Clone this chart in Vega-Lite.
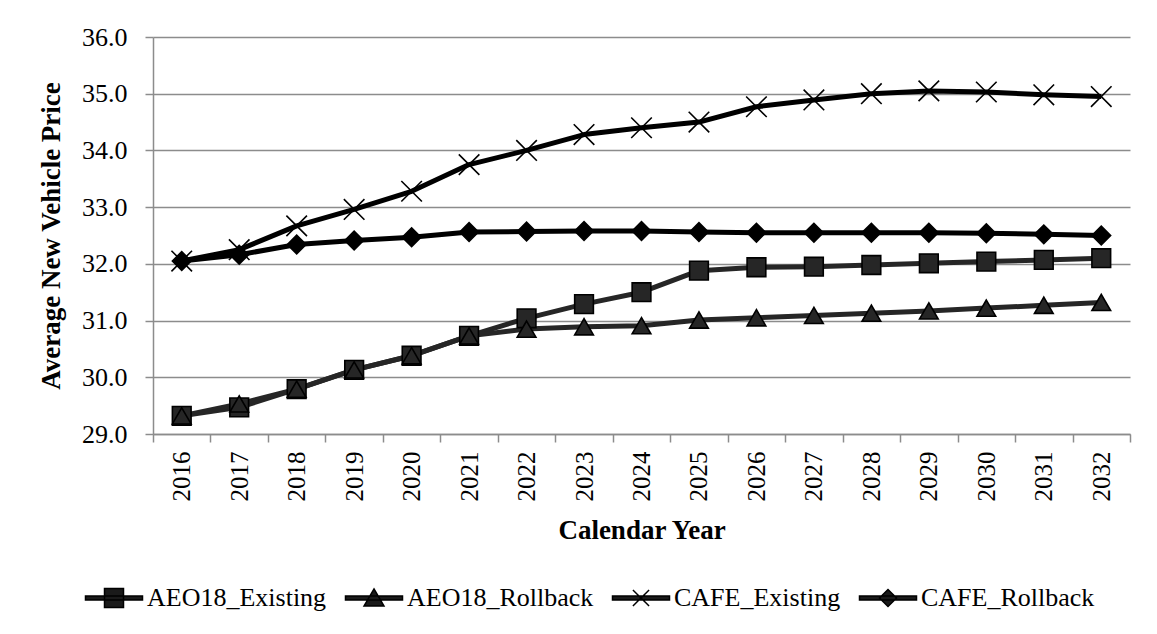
{
  "$schema": "https://vega.github.io/schema/vega-lite/v6.json",
  "width": 977,
  "height": 397,
  "autosize": "none",
  "padding": {"left": 153, "top": 37, "right": 27, "bottom": 200},
  "background": "white",
  "config": {
    "font": "Liberation Serif",
    "view": {"stroke": null}
  },
  "data": {
    "values": [
      {"year": 2016, "series": "AEO18_Existing", "price": 29.32},
      {"year": 2017, "series": "AEO18_Existing", "price": 29.47},
      {"year": 2018, "series": "AEO18_Existing", "price": 29.79},
      {"year": 2019, "series": "AEO18_Existing", "price": 30.13},
      {"year": 2020, "series": "AEO18_Existing", "price": 30.38},
      {"year": 2021, "series": "AEO18_Existing", "price": 30.73},
      {"year": 2022, "series": "AEO18_Existing", "price": 31.04},
      {"year": 2023, "series": "AEO18_Existing", "price": 31.29},
      {"year": 2024, "series": "AEO18_Existing", "price": 31.50},
      {"year": 2025, "series": "AEO18_Existing", "price": 31.88},
      {"year": 2026, "series": "AEO18_Existing", "price": 31.94},
      {"year": 2027, "series": "AEO18_Existing", "price": 31.95},
      {"year": 2028, "series": "AEO18_Existing", "price": 31.98},
      {"year": 2029, "series": "AEO18_Existing", "price": 32.01},
      {"year": 2030, "series": "AEO18_Existing", "price": 32.04},
      {"year": 2031, "series": "AEO18_Existing", "price": 32.07},
      {"year": 2032, "series": "AEO18_Existing", "price": 32.10},
      {"year": 2016, "series": "AEO18_Rollback", "price": 29.32},
      {"year": 2017, "series": "AEO18_Rollback", "price": 29.53},
      {"year": 2018, "series": "AEO18_Rollback", "price": 29.79},
      {"year": 2019, "series": "AEO18_Rollback", "price": 30.13},
      {"year": 2020, "series": "AEO18_Rollback", "price": 30.38},
      {"year": 2021, "series": "AEO18_Rollback", "price": 30.73},
      {"year": 2022, "series": "AEO18_Rollback", "price": 30.85},
      {"year": 2023, "series": "AEO18_Rollback", "price": 30.89},
      {"year": 2024, "series": "AEO18_Rollback", "price": 30.91},
      {"year": 2025, "series": "AEO18_Rollback", "price": 31.01},
      {"year": 2026, "series": "AEO18_Rollback", "price": 31.05},
      {"year": 2027, "series": "AEO18_Rollback", "price": 31.09},
      {"year": 2028, "series": "AEO18_Rollback", "price": 31.13},
      {"year": 2029, "series": "AEO18_Rollback", "price": 31.17},
      {"year": 2030, "series": "AEO18_Rollback", "price": 31.22},
      {"year": 2031, "series": "AEO18_Rollback", "price": 31.27},
      {"year": 2032, "series": "AEO18_Rollback", "price": 31.32},
      {"year": 2016, "series": "CAFE_Existing", "price": 32.05},
      {"year": 2017, "series": "CAFE_Existing", "price": 32.25},
      {"year": 2018, "series": "CAFE_Existing", "price": 32.67},
      {"year": 2019, "series": "CAFE_Existing", "price": 32.96},
      {"year": 2020, "series": "CAFE_Existing", "price": 33.28},
      {"year": 2021, "series": "CAFE_Existing", "price": 33.75},
      {"year": 2022, "series": "CAFE_Existing", "price": 34.00},
      {"year": 2023, "series": "CAFE_Existing", "price": 34.28},
      {"year": 2024, "series": "CAFE_Existing", "price": 34.40},
      {"year": 2025, "series": "CAFE_Existing", "price": 34.50},
      {"year": 2026, "series": "CAFE_Existing", "price": 34.77},
      {"year": 2027, "series": "CAFE_Existing", "price": 34.89},
      {"year": 2028, "series": "CAFE_Existing", "price": 35.00},
      {"year": 2029, "series": "CAFE_Existing", "price": 35.05},
      {"year": 2030, "series": "CAFE_Existing", "price": 35.03},
      {"year": 2031, "series": "CAFE_Existing", "price": 34.98},
      {"year": 2032, "series": "CAFE_Existing", "price": 34.95},
      {"year": 2016, "series": "CAFE_Rollback", "price": 32.05},
      {"year": 2017, "series": "CAFE_Rollback", "price": 32.16},
      {"year": 2018, "series": "CAFE_Rollback", "price": 32.34},
      {"year": 2019, "series": "CAFE_Rollback", "price": 32.41},
      {"year": 2020, "series": "CAFE_Rollback", "price": 32.47},
      {"year": 2021, "series": "CAFE_Rollback", "price": 32.56},
      {"year": 2022, "series": "CAFE_Rollback", "price": 32.57},
      {"year": 2023, "series": "CAFE_Rollback", "price": 32.58},
      {"year": 2024, "series": "CAFE_Rollback", "price": 32.58},
      {"year": 2025, "series": "CAFE_Rollback", "price": 32.56},
      {"year": 2026, "series": "CAFE_Rollback", "price": 32.55},
      {"year": 2027, "series": "CAFE_Rollback", "price": 32.55},
      {"year": 2028, "series": "CAFE_Rollback", "price": 32.55},
      {"year": 2029, "series": "CAFE_Rollback", "price": 32.55},
      {"year": 2030, "series": "CAFE_Rollback", "price": 32.54},
      {"year": 2031, "series": "CAFE_Rollback", "price": 32.52},
      {"year": 2032, "series": "CAFE_Rollback", "price": 32.50}
    ]
  },
  "encoding": {
    "x": {
      "field": "year",
      "type": "ordinal",
      "title": "Calendar Year",
      "scale": {"type": "band", "paddingInner": 0, "paddingOuter": 0},
      "axis": {
        "tickBand": "extent",
        "labelAngle": 270,
        "labelFontSize": 25,
        "labelColor": "#000",
        "labelPadding": 9,
        "tickSize": 8,
        "tickColor": "#8c8c8c",
        "tickWidth": 1.5,
        "domainColor": "#8c8c8c",
        "domainWidth": 1.5,
        "grid": false,
        "titleFontSize": 27,
        "titleFontWeight": "bold",
        "titleColor": "#000",
        "titlePadding": 16
      }
    },
    "y": {
      "field": "price",
      "type": "quantitative",
      "title": "Average New Vehicle Price",
      "scale": {"domain": [29, 36], "nice": false, "zero": false},
      "axis": {
        "values": [29, 30, 31, 32, 33, 34, 35, 36],
        "format": ".1f",
        "labelFontSize": 26,
        "labelColor": "#000",
        "labelPadding": 18,
        "tickSize": 8,
        "tickColor": "#8c8c8c",
        "tickWidth": 1.5,
        "domainColor": "#8c8c8c",
        "domainWidth": 1.5,
        "gridColor": "#8c8c8c",
        "gridWidth": 1.5,
        "titleFontSize": 27,
        "titleFontWeight": "bold",
        "titleColor": "#000",
        "titlePadding": 16
      }
    },
    "color": {
      "field": "series",
      "type": "nominal",
      "legend": null,
      "scale": {"range": ["#262626", "#262626", "#000000", "#000000"]}
    }
  },
  "resolve": {"scale": {"shape": "independent"}},
  "layer": [
    {
      "mark": {"type": "line", "strokeWidth": 5, "strokeJoin": "round"}
    },
    {
      "mark": {
        "type": "point",
        "filled": true,
        "opacity": 1,
        "size": 350,
        "stroke": "#000",
        "strokeWidth": 1.6
      },
      "encoding": {
        "shape": {
          "field": "series",
          "type": "nominal",
          "legend": null,
          "scale": {
            "range": ["square", "triangle-up", "M-1.1,-1.1L1.1,1.1M-1.1,1.1L1.1,-1.1", "diamond"]
          }
        }
      }
    },
    {
      "mark": {
        "type": "point",
        "filled": true,
        "opacity": 1,
        "size": 0,
        "stroke": "#000",
        "strokeWidth": 1.5
      },
      "encoding": {
        "shape": {
          "field": "series",
          "type": "nominal",
          "scale": {
            "range": [
              "M-3,-0.2H3V0.2H-3Z M-1,-1H1V1H-1Z",
              "M-3,-0.2H3V0.2H-3Z M0,-0.95L1.05,0.85H-1.05Z",
              "M-3,-0.2H3V0.2H-3Z M-0.85,-0.85L0.85,0.85M-0.85,0.85L0.85,-0.85",
              "M-3,-0.2H3V0.2H-3Z M0,-0.9L0.9,0L0,0.9L-0.9,0Z"
            ]
          },
          "legend": {
            "title": null,
            "orient": "none",
            "direction": "horizontal",
            "legendX": -52,
            "legendY": 548,
            "labelFontSize": 26,
            "labelColor": "#000",
            "labelLimit": 400,
            "labelOffset": 20,
            "columnPadding": 15,
            "symbolSize": 361,
            "symbolFillColor": "#1a1a1a",
            "symbolStrokeColor": "#000",
            "symbolStrokeWidth": 1.5,
            "symbolOpacity": 1
          }
        }
      }
    }
  ]
}
